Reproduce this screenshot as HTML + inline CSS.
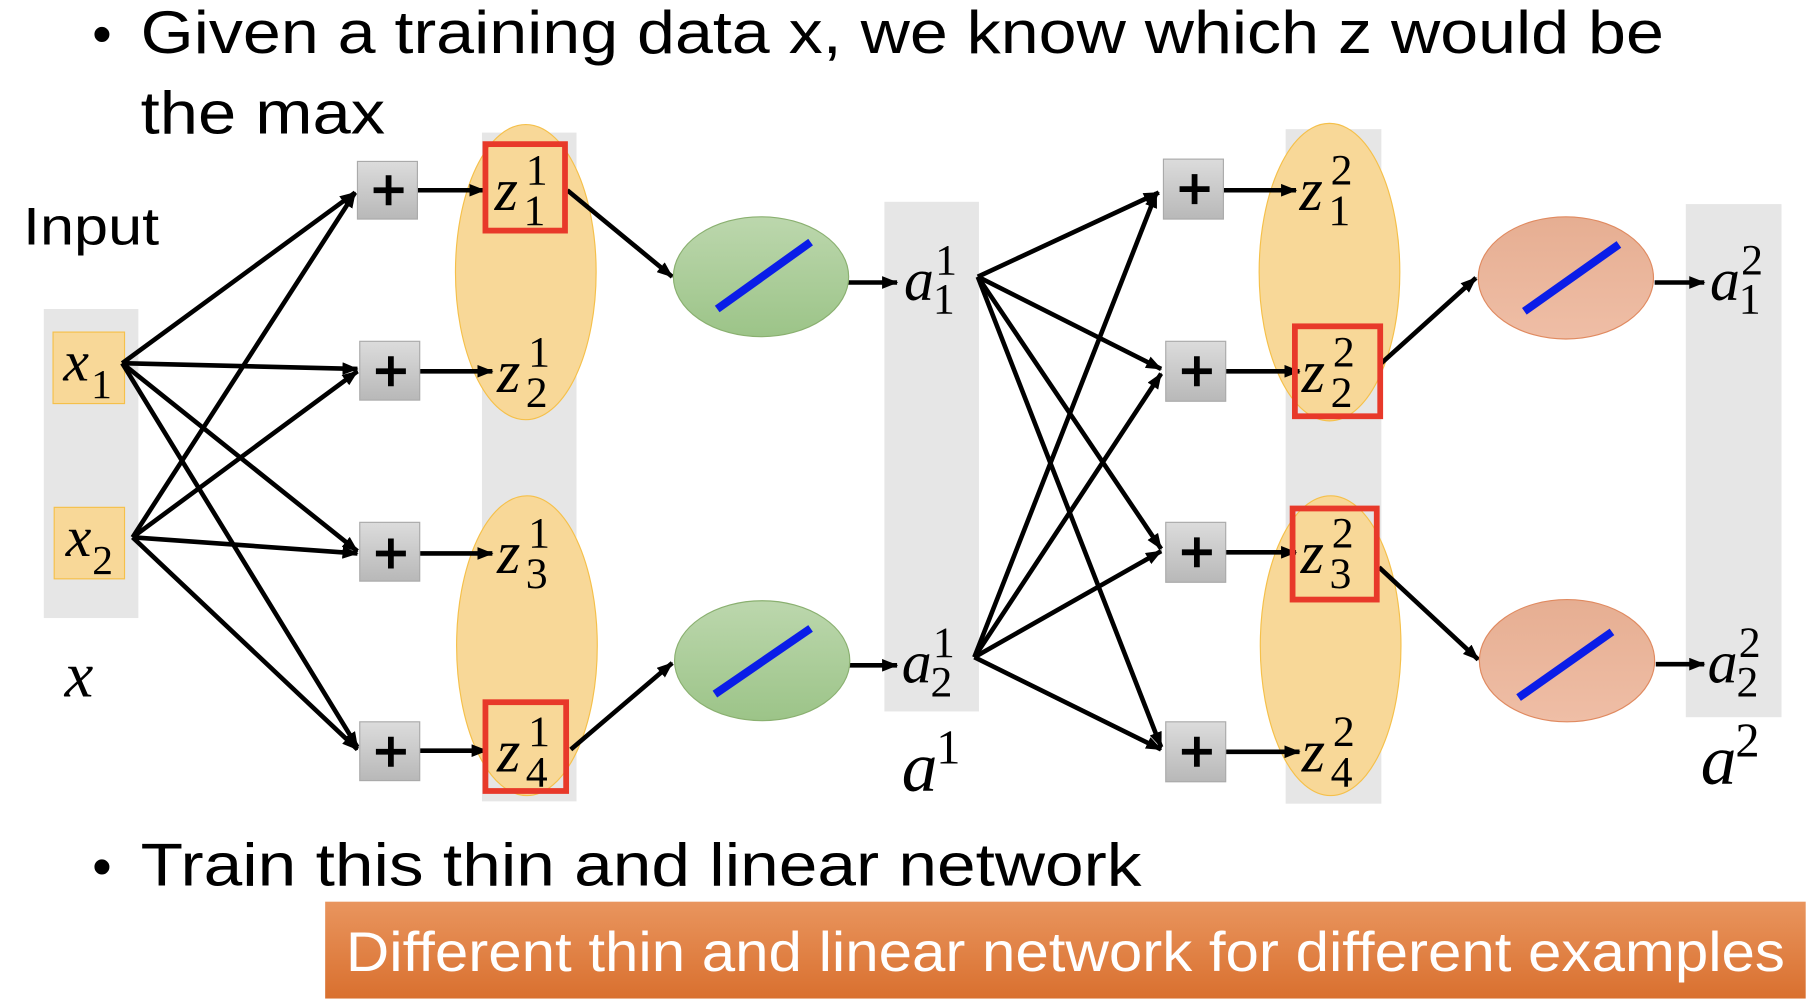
<!DOCTYPE html>
<html><head><meta charset="utf-8"><style>
html,body{margin:0;padding:0;background:#fff;}
svg{display:block;}
.t{font-family:"Liberation Sans",sans-serif;fill:#000;}
.m{font-family:"Liberation Serif",serif;font-style:italic;fill:#000;}
.s{font-family:"Liberation Serif",serif;fill:#000;}
</style></head><body>
<svg width="1808" height="1002" viewBox="0 0 1568 869" preserveAspectRatio="none" xmlns="http://www.w3.org/2000/svg">
<defs>
<marker id="ah" markerWidth="14" markerHeight="11" refX="13" refY="5.5" orient="auto" markerUnits="userSpaceOnUse"><path d="M0,0 L14,5.5 L0,11 Z" fill="#000"/></marker>
<linearGradient id="pg" x1="0" y1="0" x2="0" y2="1"><stop offset="0" stop-color="#dcdcdc"/><stop offset="1" stop-color="#b8b8b8"/></linearGradient>
<linearGradient id="og" x1="0" y1="0" x2="0" y2="1"><stop offset="0" stop-color="#e9955e"/><stop offset="1" stop-color="#d9702f"/></linearGradient>
<linearGradient id="gg" x1="0" y1="0" x2="0" y2="1"><stop offset="0" stop-color="#bcd7ad"/><stop offset="1" stop-color="#9cc488"/></linearGradient>
<linearGradient id="rg" x1="0" y1="0" x2="0" y2="1"><stop offset="0" stop-color="#e6ae92"/><stop offset="1" stop-color="#efbea6"/></linearGradient>
</defs>

<text class="t" x="80" y="46" font-size="48">•</text>
<text class="t" x="122" y="46" font-size="52" textLength="1321" lengthAdjust="spacingAndGlyphs">Given a training data x, we know which z would be</text>
<text class="t" x="122" y="116" font-size="52" textLength="212" lengthAdjust="spacingAndGlyphs">the max</text>
<text class="t" x="20" y="212" font-size="46" textLength="118" lengthAdjust="spacingAndGlyphs">Input</text>

<rect x="38" y="268" width="82" height="268" fill="#e6e6e6"/>
<rect x="418" y="115" width="82" height="580" fill="#e6e6e6"/>
<rect x="767" y="175" width="82" height="442" fill="#e6e6e6"/>
<rect x="1115" y="112" width="83" height="585" fill="#e6e6e6"/>
<rect x="1462" y="177" width="83" height="445" fill="#e6e6e6"/>

<ellipse cx="456" cy="236" rx="61" ry="128" fill="#f8d898" stroke="#f5c04a" stroke-width="1"/>
<ellipse cx="457" cy="560" rx="61" ry="130" fill="#f8d898" stroke="#f5c04a" stroke-width="1"/>
<ellipse cx="1153" cy="236" rx="61" ry="129" fill="#f8d898" stroke="#f5c04a" stroke-width="1"/>
<ellipse cx="1154" cy="560" rx="61" ry="130" fill="#f8d898" stroke="#f5c04a" stroke-width="1"/>

<rect x="46" y="288" width="62" height="62" fill="#f8d898" stroke="#f5c04a"/>
<rect x="47" y="440" width="61" height="62" fill="#f8d898" stroke="#f5c04a"/>
<text class="m" x="55" y="330" font-size="50">x</text><text class="s" x="79" y="345" font-size="36">1</text>
<text class="m" x="57" y="482" font-size="50">x</text><text class="s" x="80" y="498" font-size="36">2</text>
<text class="m" x="56" y="604" font-size="56">x</text>

<g stroke="#000" stroke-width="4" fill="none" marker-end="url(#ah)">
<line x1="106" y1="315" x2="308" y2="167"/>
<line x1="106" y1="315" x2="310" y2="320"/>
<line x1="106" y1="315" x2="310" y2="478"/>
<line x1="106" y1="315" x2="310" y2="648"/>
<line x1="115" y1="466" x2="308" y2="167"/>
<line x1="115" y1="466" x2="310" y2="322"/>
<line x1="115" y1="466" x2="310" y2="480"/>
<line x1="115" y1="466" x2="310" y2="650"/>
<line x1="362" y1="165" x2="420" y2="165"/>
<line x1="364" y1="322" x2="427" y2="322"/>
<line x1="364" y1="480" x2="427" y2="480"/>
<line x1="364" y1="651" x2="422" y2="651"/>
<line x1="492" y1="165" x2="583" y2="240"/>
<line x1="495" y1="650" x2="583" y2="575"/>
<line x1="735" y1="245" x2="778" y2="245"/>
<line x1="735" y1="577" x2="778" y2="577"/>
<line x1="848" y1="240" x2="1005" y2="167"/>
<line x1="848" y1="240" x2="1007" y2="320"/>
<line x1="848" y1="240" x2="1007" y2="476"/>
<line x1="848" y1="240" x2="1007" y2="648"/>
<line x1="845" y1="570" x2="1003" y2="167"/>
<line x1="845" y1="570" x2="1007" y2="324"/>
<line x1="845" y1="570" x2="1007" y2="478"/>
<line x1="845" y1="570" x2="1007" y2="650"/>
<line x1="1061" y1="165" x2="1124" y2="165"/>
<line x1="1063" y1="322" x2="1127" y2="322"/>
<line x1="1063" y1="479" x2="1124" y2="479"/>
<line x1="1063" y1="652" x2="1127" y2="652"/>
<line x1="1198" y1="315" x2="1280" y2="241"/>
<line x1="1196" y1="492" x2="1282" y2="572"/>
<line x1="1435" y1="245" x2="1478" y2="245"/>
<line x1="1436" y1="576" x2="1478" y2="576"/>
</g>

<g>
<rect x="310" y="140" width="52" height="50" fill="url(#pg)" stroke="#aaa"/>
<rect x="312" y="296" width="52" height="51" fill="url(#pg)" stroke="#aaa"/>
<rect x="312" y="453" width="52" height="51" fill="url(#pg)" stroke="#aaa"/>
<rect x="312" y="626" width="52" height="51" fill="url(#pg)" stroke="#aaa"/>
<rect x="1009" y="138" width="52" height="52" fill="url(#pg)" stroke="#aaa"/>
<rect x="1011" y="296" width="52" height="52" fill="url(#pg)" stroke="#aaa"/>
<rect x="1011" y="453" width="52" height="52" fill="url(#pg)" stroke="#aaa"/>
<rect x="1011" y="626" width="52" height="52" fill="url(#pg)" stroke="#aaa"/>
</g>
<g stroke="#000" stroke-width="5">
<path d="M324,165 h26 M337,152 v26"/>
<path d="M326,322 h26 M339,309 v26"/>
<path d="M326,480 h26 M339,467 v26"/>
<path d="M326,652 h26 M339,639 v26"/>
<path d="M1023,164 h26 M1036,151 v26"/>
<path d="M1025,322 h26 M1038,309 v26"/>
<path d="M1025,479 h26 M1038,466 v26"/>
<path d="M1025,652 h26 M1038,639 v26"/>
</g>

<g>
<text class="m" x="429" y="182" font-size="52">z</text><text class="s" x="456" y="160" font-size="38">1</text><text class="s" x="454" y="195" font-size="38">1</text>
<text class="m" x="431" y="340" font-size="52">z</text><text class="s" x="458" y="318" font-size="38">1</text><text class="s" x="456" y="353" font-size="38">2</text>
<text class="m" x="431" y="497" font-size="52">z</text><text class="s" x="458" y="475" font-size="38">1</text><text class="s" x="456" y="510" font-size="38">3</text>
<text class="m" x="431" y="669" font-size="52">z</text><text class="s" x="458" y="647" font-size="38">1</text><text class="s" x="456" y="682" font-size="38">4</text>
</g>
<rect x="421" y="125" width="69" height="75" fill="none" stroke="#e8392a" stroke-width="5"/>
<rect x="421" y="609" width="70" height="77" fill="none" stroke="#e8392a" stroke-width="5"/>

<ellipse cx="660" cy="240" rx="76" ry="52" fill="url(#gg)" stroke="#8ab070"/>
<ellipse cx="661" cy="573" rx="76" ry="52" fill="url(#gg)" stroke="#8ab070"/>
<line x1="622" y1="268" x2="703" y2="210" stroke="#0a1de8" stroke-width="7"/>
<line x1="620" y1="602" x2="703" y2="545" stroke="#0a1de8" stroke-width="7"/>

<text class="m" x="784" y="260" font-size="52">a</text><text class="s" x="811" y="238" font-size="38">1</text><text class="s" x="809" y="272" font-size="38">1</text>
<text class="m" x="782" y="592" font-size="52">a</text><text class="s" x="809" y="570" font-size="38">1</text><text class="s" x="807" y="604" font-size="38">2</text>
<text class="m" x="782" y="686" font-size="62">a</text><text class="s" x="812" y="662" font-size="42">1</text>

<text class="m" x="1127" y="182" font-size="52">z</text><text class="s" x="1154" y="160" font-size="38">2</text><text class="s" x="1152" y="195" font-size="38">1</text>
<text class="m" x="1129" y="340" font-size="52">z</text><text class="s" x="1156" y="318" font-size="38">2</text><text class="s" x="1154" y="353" font-size="38">2</text>
<text class="m" x="1128" y="497" font-size="52">z</text><text class="s" x="1155" y="475" font-size="38">2</text><text class="s" x="1153" y="510" font-size="38">3</text>
<text class="m" x="1129" y="669" font-size="52">z</text><text class="s" x="1156" y="647" font-size="38">2</text><text class="s" x="1154" y="682" font-size="38">4</text>
<rect x="1123" y="283" width="74" height="78" fill="none" stroke="#e8392a" stroke-width="5"/>
<rect x="1121" y="441" width="73" height="79" fill="none" stroke="#e8392a" stroke-width="5"/>

<ellipse cx="1358" cy="241" rx="76" ry="53" fill="url(#rg)" stroke="#e08a60"/>
<ellipse cx="1359" cy="573" rx="76" ry="53" fill="url(#rg)" stroke="#e08a60"/>
<line x1="1322" y1="270" x2="1404" y2="212" stroke="#0a1de8" stroke-width="7"/>
<line x1="1317" y1="605" x2="1398" y2="548" stroke="#0a1de8" stroke-width="7"/>

<text class="m" x="1483" y="260" font-size="52">a</text><text class="s" x="1510" y="238" font-size="38">2</text><text class="s" x="1508" y="272" font-size="38">1</text>
<text class="m" x="1481" y="592" font-size="52">a</text><text class="s" x="1508" y="570" font-size="38">2</text><text class="s" x="1506" y="604" font-size="38">2</text>
<text class="m" x="1475" y="680" font-size="62">a</text><text class="s" x="1505" y="656" font-size="42">2</text>

<text class="t" x="80" y="768" font-size="48">•</text>
<text class="t" x="122" y="768" font-size="52" textLength="868" lengthAdjust="spacingAndGlyphs">Train this thin and linear network</text>
<rect x="282" y="782" width="1284" height="84" fill="url(#og)"/>
<text class="t" x="300" y="842" font-size="48" style="fill:#fff" textLength="1248" lengthAdjust="spacingAndGlyphs">Different thin and linear network for different examples</text>
</svg>
</body></html>
